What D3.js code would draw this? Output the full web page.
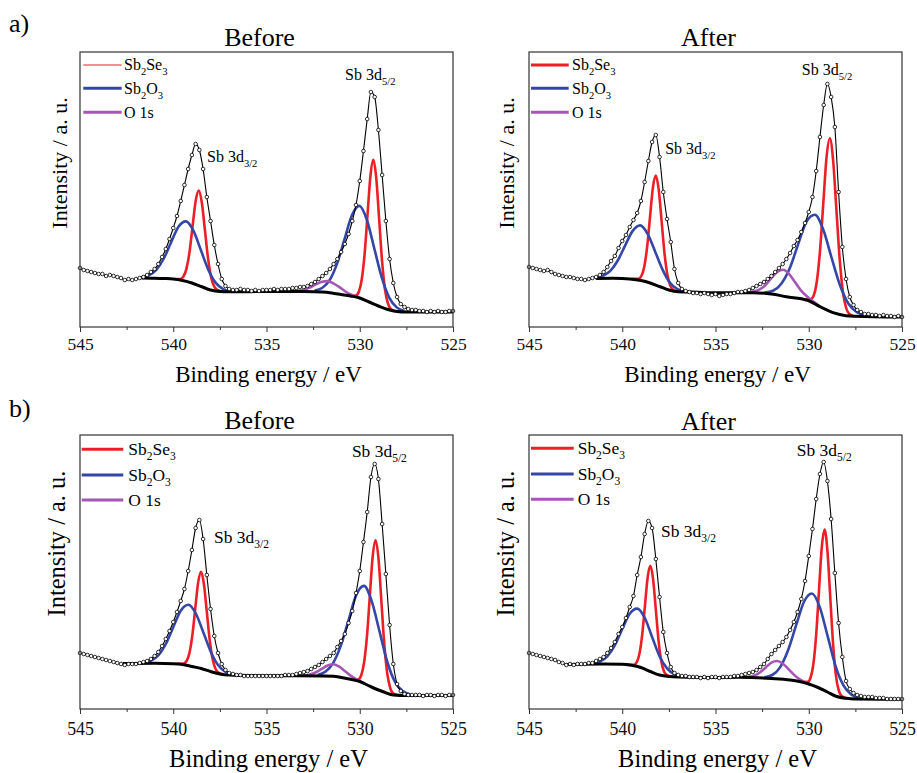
<!DOCTYPE html>
<html lang="en">
<head>
  <meta charset="UTF-8">
  <script src="https://cdn.jsdelivr.net/npm/d3@7"></script>
  <title>Sb 3d XPS</title>
  <style>
    body { margin: 0; background: #fff; }
    svg { font-family: "Liberation Serif", "Times New Roman", serif; }
  </style>
</head>
<body>
<svg width="917" height="773"></svg>
<script>
  // binding energy grid of the measured spectra (eV)
  const energy = [
    545, 544.8, 544.6, 544.4, 544.2, 544, 543.8, 543.6, 543.4, 543.2,
    543, 542.8, 542.6, 542.4, 542.2, 542, 541.8, 541.6, 541.4, 541.2,
    541, 540.8, 540.6, 540.4, 540.2, 540, 539.8, 539.6, 539.4, 539.2,
    539, 538.8, 538.6, 538.4, 538.2, 538, 537.8, 537.6, 537.4, 537.2,
    537, 536.8, 536.6, 536.4, 536.2, 536, 535.8, 535.6, 535.4, 535.2,
    535, 534.8, 534.6, 534.4, 534.2, 534, 533.8, 533.6, 533.4, 533.2,
    533, 532.8, 532.6, 532.4, 532.2, 532, 531.8, 531.6, 531.4, 531.2,
    531, 530.8, 530.6, 530.4, 530.2, 530, 529.8, 529.6, 529.4, 529.2,
    529, 528.8, 528.6, 528.4, 528.2, 528, 527.8, 527.6, 527.4, 527.2,
    527, 526.8, 526.6, 526.4, 526.2, 526, 525.8, 525.6, 525.4, 525.2,
    525
  ];

  // measured intensity (a.u.)
  const aBeforeCounts = [
    59, 57, 56, 55, 54, 53, 53, 51, 52, 51,
    50, 49, 47, 48, 47, 48, 49, 50, 52, 55,
    58, 63, 70, 78, 88, 99, 111, 126, 142, 158,
    172, 183, 177, 158, 130, 106, 82, 63, 48, 41,
    38, 37, 37, 38, 37, 37, 36, 37, 36, 37,
    37, 37, 38, 37, 38, 38, 38, 39, 39, 40,
    40, 41, 43, 45, 48, 51, 54, 58, 63, 68,
    75, 83, 93, 106, 122, 146, 176, 208, 235, 230,
    197, 152, 106, 68, 44, 30, 23, 20, 18, 17,
    17, 16, 16, 15, 16, 15, 16, 15, 15, 16,
    16
  ];
  const aAfterCounts = [
    60, 59, 58, 57, 56, 57, 55, 53, 52, 51,
    50, 50, 49, 48, 48, 47, 48, 49, 50, 52,
    55, 60, 66, 71, 79, 86, 92, 100, 107, 114,
    126, 145, 166, 185, 192, 170, 135, 108, 85, 58,
    44, 38, 36, 35, 34, 34, 33, 34, 33, 32,
    33, 31, 32, 33, 33, 34, 35, 35, 36, 37,
    39, 41, 43, 45, 48, 51, 55, 59, 63, 68,
    74, 81, 87, 95, 104, 115, 130, 156, 190, 222,
    243, 230, 200, 135, 80, 48, 30, 22, 17, 15,
    13, 13, 12, 12, 11, 12, 11, 11, 10, 11,
    10
  ];
  const bBeforeCounts = [
    56, 55, 54, 53, 52, 51, 50, 49, 48, 47,
    46, 45, 44, 45, 45, 45, 46, 47, 48, 50,
    53, 57, 63, 70, 78, 87, 97, 108, 120, 138,
    159, 181, 189, 170, 134, 100, 73, 56, 45, 39,
    36, 35, 34, 34, 33, 33, 33, 33, 33, 33,
    33, 33, 33, 33, 33, 34, 34, 34, 35, 36,
    37, 38, 40, 42, 44, 47, 50, 53, 56, 62,
    68, 75, 86, 98, 116, 138, 167, 197, 232, 245,
    230, 185, 135, 84, 45, 25, 18, 15, 14, 14,
    14, 14, 13, 14, 14, 13, 14, 14, 13, 14,
    14
  ];
  const bAfterCounts = [
    56, 55, 54, 53, 52, 51, 50, 49, 47, 46,
    44, 45, 44, 45, 45, 45, 46, 46, 48, 50,
    52, 56, 61, 67, 75, 82, 91, 102, 113, 134,
    152, 175, 188, 181, 150, 112, 77, 56, 42, 36,
    34, 33, 33, 32, 32, 32, 31, 32, 31, 32,
    32, 31, 32, 32, 32, 33, 33, 34, 35, 36,
    37, 39, 42, 45, 50, 55, 59, 63, 67, 72,
    79, 87, 97, 110, 128, 153, 180, 210, 235, 247,
    228, 190, 136, 86, 52, 28, 20, 16, 14, 13,
    12, 12, 12, 11, 11, 11, 10, 10, 10, 10,
    10
  ];

  // Shirley backgrounds [eV, intensity]
  const aBeforeBackground = [[541.7, 49], [541, 48.8], [540.5, 48.5], [540, 48], [539.5, 46.5], [539, 44], [538.5, 40.5], [538, 37], [537.5, 35.5], [537, 35.2], [535, 35.5], [533, 35.5], [532, 35], [531.5, 34], [531, 32.5], [530.5, 31], [530, 29], [529.5, 25], [529, 21], [528.5, 17.5], [528, 15.5], [527.5, 15], [525, 15]];
  const aAfterBackground = [[541.4, 48.5], [540.5, 48.7], [540, 48.5], [539.6, 48], [539, 46.5], [538.5, 44], [538, 40.5], [537.5, 37], [537, 35.3], [536, 34.8], [534.8, 34.3], [533, 34.3], [532, 33], [531.2, 30.3], [530.1, 27], [529.4, 20.3], [528.7, 14.3], [528, 11.3], [527.5, 10.8], [525, 10]];
  const bBeforeBackground = [[542.7, 45.5], [541, 45.7], [540, 45.3], [539.5, 44.5], [539, 42.5], [538.5, 40.5], [538, 37.5], [537.5, 35], [537, 34], [535, 33.3], [532, 33], [531.4, 32.8], [531, 31.5], [530.5, 29.7], [530, 27.5], [529.6, 24], [529.2, 20.5], [528.7, 17], [528.2, 14], [527.5, 13.5], [525, 13.5]];
  const bAfterBackground = [[543, 44.5], [541, 45], [540, 44.8], [539.5, 43.8], [539, 41.5], [538.5, 37.5], [538, 34], [537.5, 32.5], [537, 32], [535, 31.5], [533.7, 31.7], [532, 30.5], [531, 29], [530.5, 27.5], [530, 25], [529.5, 21.5], [529, 17], [528.5, 12.5], [528, 10.7], [527.5, 10], [525, 9.7]];

  // fitted components [eV, intensity], one segment per peak
  const aBeforeSb2Se3 = [
    [[539.95, 48.0], [539.62, 48.0], [539.455, 50.5], [539.29, 58.4], [539.125, 75.4], [538.96, 101.4], [538.795, 126.4], [538.63, 136.4], [538.465, 124.0], [538.3, 96.7], [538.135, 68.8], [537.97, 49.8], [537.805, 40.6], [537.64, 37.1], [537.31, 35.4]],
    [[530.43, 31.0], [530.2, 31.4], [530.045, 35.5], [529.89, 47.8], [529.735, 73.8], [529.58, 113.1], [529.425, 151.5], [529.27, 167.2], [529.115, 149.0], [528.96, 108.0], [528.805, 66.4], [528.65, 38.0], [528.495, 23.8], [528.34, 18.2], [528.1, 15.8]]
  ];
  const aBeforeSb2O3 = [
    [[541.72, 49.7], [541.32, 51.6], [540.92, 56.9], [540.52, 68.0], [540.12, 84.5], [539.72, 100.2], [539.32, 105.6], [538.92, 96.4], [538.52, 77.0], [538.12, 57.3], [537.72, 44.1], [537.32, 37.9], [536.92, 35.7]],
    [[532.42, 36.5], [532.02, 39.0], [531.62, 46.7], [531.22, 63.1], [530.82, 87.6], [530.42, 111.7], [530.02, 121.1], [529.62, 107.3], [529.22, 78.5], [528.82, 49.6], [528.42, 29.4], [528.02, 19.6], [527.62, 16.0]]
  ];
  const aBeforeO1s = [
    [[533.69, 35.8], [533.365, 36.1], [533.04, 37.1], [532.715, 39.1], [532.39, 42.3], [532.065, 45.1], [531.74, 45.9], [531.415, 43.7], [531.09, 39.8], [530.765, 35.5], [530.44, 32.2], [530.115, 29.8], [529.79, 27.5]]
  ];

  const aAfterSb2Se3 = [
    [[539.5, 48.1], [539.13, 48.2], [538.975, 51.0], [538.82, 60.3], [538.665, 80.2], [538.51, 110.2], [538.355, 139.6], [538.2, 151.4], [538.045, 137.3], [537.89, 105.9], [537.735, 73.9], [537.58, 52.2], [537.425, 41.4], [537.27, 37.2], [537.0, 35.4]],
    [[530.2, 26.9], [529.92, 27.4], [529.745, 31.1], [529.57, 45.2], [529.395, 76.5], [529.22, 123.6], [529.045, 169.9], [528.87, 188.8], [528.695, 167.0], [528.52, 118.2], [528.345, 68.8], [528.17, 35.4], [527.995, 19.0], [527.82, 13.0], [527.6, 11.0]]
  ];
  const aAfterSb2O3 = [
    [[541.44, 48.6], [541.04, 51.3], [540.64, 56.1], [540.24, 66.5], [539.84, 81.7], [539.44, 96.1], [539.04, 101.6], [538.64, 93.2], [538.24, 75.6], [537.84, 57.4], [537.44, 44.2], [537.04, 37.8], [536.64, 35.7]],
    [[532.37, 34.5], [531.92, 36.3], [531.47, 43.3], [531.02, 58.7], [530.57, 82.6], [530.12, 105.5], [529.67, 112.2], [529.22, 97.2], [528.77, 68.9], [528.32, 41.5], [527.87, 23.2], [527.42, 14.7], [526.97, 11.6]]
  ];
  const aAfterO1s = [
    [[533.29, 34.6], [532.97, 35.4], [532.65, 37.4], [532.33, 41.8], [532.01, 48.8], [531.69, 55.0], [531.37, 57.3], [531.05, 52.9], [530.73, 44.7], [530.41, 36.4], [530.09, 30.5], [529.77, 25.6], [529.45, 21.3]]
  ];

  const bBeforeSb2Se3 = [
    [[539.8, 45.2], [539.44, 45.5], [539.285, 48.0], [539.13, 56.1], [538.975, 73.8], [538.82, 100.4], [538.665, 126.4], [538.51, 137.1], [538.355, 124.8], [538.2, 97.2], [538.045, 69.1], [537.89, 50.0], [537.735, 40.3], [537.58, 36.4], [537.3, 34.6]],
    [[530.35, 29.1], [530.08, 29.5], [529.925, 33.5], [529.77, 46.2], [529.615, 72.3], [529.46, 112.9], [529.305, 152.8], [529.15, 168.8], [528.995, 150.4], [528.84, 108.0], [528.685, 65.1], [528.53, 36.1], [528.375, 21.7], [528.22, 15.7], [528.0, 14.0]]
  ];
  const bBeforeSb2O3 = [
    [[541.59, 46.4], [541.19, 48.4], [540.79, 53.9], [540.39, 65.3], [539.99, 82.3], [539.59, 98.5], [539.19, 104.3], [538.79, 95.5], [538.39, 76.8], [537.99, 57.3], [537.59, 43.7], [537.19, 37.1], [536.79, 34.7]],
    [[532.26, 34.1], [531.85, 37.2], [531.43, 45.9], [531.02, 63.1], [530.6, 88.9], [530.19, 113.9], [529.77, 123.1], [529.36, 107.8], [528.94, 77.6], [528.53, 47.5], [528.11, 27.1], [527.7, 17.9], [527.28, 14.6]]
  ];
  const bBeforeO1s = [
    [[533.22, 33.4], [532.92, 33.7], [532.62, 34.8], [532.32, 37.0], [532.02, 40.3], [531.72, 43.5], [531.42, 44.8], [531.12, 42.6], [530.82, 38.3], [530.52, 33.7], [530.22, 30.2], [529.92, 27.3], [529.62, 24.3]]
  ];

  const bAfterSb2Se3 = [
    [[539.8, 44.1], [539.36, 44.3], [539.215, 47.1], [539.07, 56.1], [538.925, 75.2], [538.78, 103.9], [538.635, 131.9], [538.49, 143.1], [538.345, 129.7], [538.2, 99.5], [538.055, 68.7], [537.91, 48.0], [537.765, 37.8], [537.62, 34.1], [537.3, 32.3]],
    [[530.35, 27.0], [530.05, 27.2], [529.9, 31.5], [529.75, 45.3], [529.6, 74.7], [529.45, 118.8], [529.3, 161.9], [529.15, 179.4], [529.0, 158.6], [528.85, 112.9], [528.7, 66.4], [528.55, 34.7], [528.4, 19.1], [528.25, 13.4], [528.0, 10.9]]
  ];
  const bAfterSb2O3 = [
    [[541.6, 45.6], [541.2, 47.5], [540.8, 52.7], [540.4, 63.6], [540.0, 80.0], [539.6, 95.3], [539.2, 100.4], [538.8, 91.5], [538.4, 72.0], [538.0, 52.8], [537.6, 40.6], [537.2, 34.7], [536.8, 32.6]],
    [[532.38, 31.8], [531.96, 34.0], [531.53, 41.9], [531.11, 58.7], [530.68, 83.6], [530.26, 107.0], [529.83, 115.5], [529.41, 101.9], [528.98, 72.3], [528.56, 42.7], [528.13, 23.4], [527.71, 14.3], [527.28, 10.9]]
  ];
  const bAfterO1s = [
    [[533.5, 31.8], [533.2, 32.2], [532.9, 33.6], [532.6, 36.8], [532.3, 41.6], [532.0, 46.4], [531.7, 48.0], [531.4, 45.5], [531.1, 40.1], [530.8, 34.4], [530.5, 29.9], [530.2, 26.8], [529.9, 24.7]]
  ];

  const xTicks = [545, 540, 535, 530, 525];
  const xMinorTicks = [542.5, 537.5, 532.5, 527.5];
  const legendNames = [["Sb", "_2", "Se", "_3"], ["Sb", "_2", "O", "_3"], ["O 1s"]];
  const peakNames = [["Sb 3d", "_5/2"], ["Sb 3d", "_3/2"]];
  // label anchors [eV, intensity]
  const aBeforePeakAt = [[530.79, 247], [538.19, 165]];
  const aAfterPeakAt = [[530.37, 252], [537.70, 173]];
  const bBeforePeakAt = [[530.42, 252], [537.81, 166]];
  const bAfterPeakAt = [[530.64, 253], [537.92, 172]];

  const RED = "#ec1f26", BLUE = "#3447a8", PURPLE = "#a656b6";

  const panels = [
    { title: "Before", left: 80, top: 52, h: 275, counts: aBeforeCounts, bg: aBeforeBackground,
      se: aBeforeSb2Se3, ox: aBeforeSb2O3, o1s: aBeforeO1s, peaks: aBeforePeakAt,
      titleY: 46, ylx: 67, yly: 163, fs: 1, tickPad: 6, xlabDy: 54.5,
      leg: { x0: 3.3, x1: 41.7, tx: 44, rows: [13, 36.3, 60.3], firstW: 1.2 } },
    { title: "After", left: 529, top: 52, h: 275, counts: aAfterCounts, bg: aAfterBackground,
      se: aAfterSb2Se3, ox: aAfterSb2O3, o1s: aAfterO1s, peaks: aAfterPeakAt,
      titleY: 46, ylx: 514, yly: 163, fs: 1, tickPad: 6, xlabDy: 54.5,
      leg: { x0: 2, x1: 39.7, tx: 43, rows: [13, 36.3, 60.3], firstW: 3 } },
    { title: "Before", left: 80, top: 435, h: 274, counts: bBeforeCounts, bg: bBeforeBackground,
      se: bBeforeSb2Se3, ox: bBeforeSb2O3, o1s: bBeforeO1s, peaks: bBeforePeakAt,
      titleY: 429, ylx: 65, yly: 543.5, fs: 1.09, tickPad: 8.5, xlabDy: 57.5,
      leg: { x0: 1.7, x1: 43.3, tx: 48.3, rows: [14.3, 40, 65], firstW: 3 } },
    { title: "After", left: 529, top: 435, h: 274, counts: bAfterCounts, bg: bAfterBackground,
      se: bAfterSb2Se3, ox: bAfterSb2O3, o1s: bAfterO1s, peaks: bAfterPeakAt,
      titleY: 430, ylx: 514, yly: 543.5, fs: 1.09, tickPad: 8.5, xlabDy: 57.5,
      leg: { x0: 2, x1: 44.7, tx: 48.7, rows: [13.3, 39, 64.3], firstW: 3 } }
  ];

  const svg = d3.select("svg");
  const plotW = 373;

  // text with subscripts: parts starting with "_" are lowered
  function richText(sel, parts, size) {
    let low = false;
    parts.forEach(p => {
      const sub = p.startsWith("_");
      const t = sel.append("tspan").text(sub ? p.slice(1) : p);
      if (sub) {
        t.attr("font-size", size * 0.66);
        if (!low) { t.attr("dy", size * 0.3); low = true; }
      } else if (low) {
        t.attr("dy", -size * 0.3); low = false;
      }
    });
  }

  // panel letters
  svg.append("text").attr("x", 9).attr("y", 32).attr("font-size", 26).text("a)");
  svg.append("text").attr("x", 9).attr("y", 417).attr("font-size", 26).text("b)");

  panels.forEach(p => {
    const x = d3.scaleLinear().domain([545, 525]).range([0, plotW]);
    const y = d3.scaleLinear().domain([0, p.h]).range([p.h, 0]);
    const g = svg.append("g").attr("transform", `translate(${p.left},${p.top})`);

    const line = d3.line().x(d => x(d[0])).y(d => y(d[1])).curve(d3.curveMonotoneX);

    // fitted components
    const comps = [[p.se, RED], [p.ox, BLUE], [p.o1s, PURPLE]];
    comps.forEach(([segs, color]) => {
      g.append("g").selectAll("path").data(segs).join("path")
        .attr("d", line).attr("fill", "none")
        .attr("stroke", color).attr("stroke-width", 2.6);
    });

    // background
    g.append("path").attr("d", line(p.bg)).attr("fill", "none")
      .attr("stroke", "#000").attr("stroke-width", 3);

    // measured spectrum
    const pts = energy.map((e, i) => [e, p.counts[i]]);
    g.append("path")
      .attr("d", line(pts))
      .attr("fill", "none").attr("stroke", "#000").attr("stroke-width", 1.1);
    g.append("g").selectAll("circle").data(pts).join("circle")
      .attr("cx", d => x(d[0])).attr("cy", d => y(d[1])).attr("r", 1.8)
      .attr("fill", "#fff").attr("stroke", "#000").attr("stroke-width", 0.8);

    // frame
    g.append("rect").attr("width", plotW).attr("height", p.h)
      .attr("fill", "none").attr("stroke", "#333").attr("stroke-width", 1.2);

    // x axis
    const ax = g.append("g").attr("transform", `translate(0,${p.h})`)
      .call(d3.axisBottom(x).tickValues(xTicks).tickSize(5).tickPadding(p.tickPad).tickFormat(d3.format("d")));
    ax.select(".domain").remove();
    ax.attr("font-family", null).attr("font-size", 17.5 * (p.fs > 1 ? 1.02 : 1));
    ax.selectAll("line").attr("stroke", "#333");
    ax.selectAll("text").attr("fill", "#111");
    const minor = g.append("g").attr("transform", `translate(0,${p.h})`)
      .call(d3.axisBottom(x).tickValues(xMinorTicks).tickSize(3).tickFormat(""));
    minor.select(".domain").remove();
    minor.selectAll("line").attr("stroke", "#333");

    // axis titles
    g.append("text").attr("x", plotW / 2 + 2).attr("y", p.h + p.xlabDy)
      .attr("text-anchor", "middle").attr("font-size", 23 * (p.fs > 1 ? 1.065 : 1))
      .text("Binding energy / eV");
    svg.append("text")
      .attr("transform", `translate(${p.ylx},${p.yly}) rotate(-90)`)
      .attr("text-anchor", "middle").attr("font-size", 22 * (p.fs > 1 ? 1.11 : 1))
      .text("Intensity / a. u.");

    // panel title
    svg.append("text").attr("x", p.left + plotW / 2 - 7).attr("y", p.titleY)
      .attr("text-anchor", "middle").attr("font-size", 26).text(p.title);

    // legend
    const fsL = 16 * p.fs;
    [RED, BLUE, PURPLE].forEach((c, i) => {
      const ly = p.leg.rows[i];
      g.append("line").attr("x1", p.leg.x0).attr("x2", p.leg.x1)
        .attr("y1", ly).attr("y2", ly).attr("stroke", c)
        .attr("stroke-width", i === 0 ? p.leg.firstW : 3);
      const t = g.append("text").attr("x", p.leg.tx).attr("y", ly + fsL * 0.34)
        .attr("font-size", fsL);
      richText(t, legendNames[i], fsL);
    });

    // peak labels
    p.peaks.forEach((pk, i) => {
      const t = g.append("text").attr("x", x(pk[0])).attr("y", y(pk[1]))
        .attr("font-size", fsL);
      richText(t, peakNames[i], fsL);
    });
  });
</script>
</body>
</html>
